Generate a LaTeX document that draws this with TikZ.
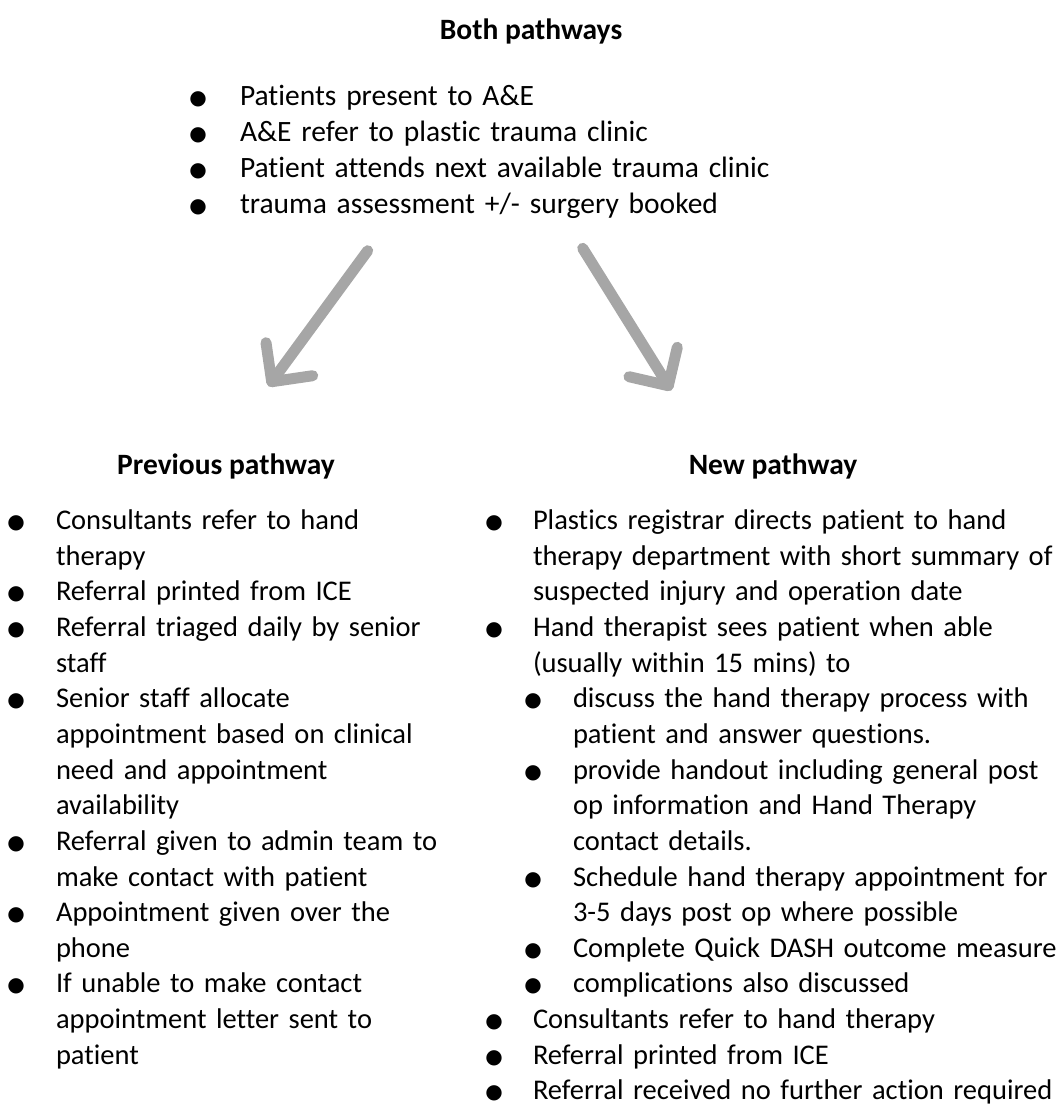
\documentclass[tikz,border=0pt]{standalone}
\usepackage{fontspec}
\setmainfont{Carlito}[Ligatures={TeX,NoCommon}]
\newfontfamily\bulfont{DejaVu Sans}
\definecolor{arrowgray}{HTML}{A6A6A6}
\newcommand\bodyfont{\fontsize{28.5pt}{35.65pt}\selectfont}
\newcommand\topfont{\fontsize{29.5pt}{36pt}\selectfont}
\newcommand\bul{\raisebox{1pt}{\bulfont\fontsize{20pt}{20pt}\selectfont ●}}
% #1 bullet centre offset, #2 text offset, #3 text
\newcommand\bitem[3]{\noindent\hangindent=#2\hangafter=1\makebox[#2][l]{\hspace*{#1}\makebox[0pt][c]{\bul}}#3\par}
\tikzset{
  txt/.style={anchor=base west, inner sep=0pt, outer sep=0pt, font=\bodyfont,
    execute at begin node={\raggedright\parindent=0pt\parskip=0pt}},
  toptxt/.style={txt, font=\topfont},
  head/.style={anchor=base, inner sep=0pt, outer sep=0pt, font=\topfont\bfseries},
  arr/.style={draw=arrowgray, line width=11pt, line cap=round, line join=round},
}
\begin{document}
\begin{tikzpicture}[x=1pt,y=-1pt]
\useasboundingbox (0,0) rectangle (1063,1106);

% headings
\node[head] (both) at (531,39) {Both pathways};
\node[head] (prev) at (226,474) {Previous pathway};
\node[head] (new) at (773,474) {New pathway};

% top list
\node[toptxt, text width=700pt] (toplist) at (178,105) {%
\bitem{20pt}{62pt}{Patients present to A\&E}%
\bitem{20pt}{62pt}{A\&E refer to plastic trauma clinic}%
\bitem{20pt}{62pt}{Patient attends next available trauma clinic}%
\bitem{20pt}{62pt}{trauma assessment +/- surgery booked}};

% left column
\node[txt, text width=480pt] (leftlist) at (0,529.5) {%
\bitem{16pt}{56pt}{Consultants refer to hand\newline therapy}%
\bitem{16pt}{56pt}{Referral printed from ICE}%
\bitem{16pt}{56pt}{Referral triaged daily by senior\newline staff}%
\bitem{16pt}{56pt}{Senior staff allocate\newline appointment based on clinical\newline need and appointment\newline availability}%
\bitem{16pt}{56pt}{Referral given to admin team to\newline make contact with patient}%
\bitem{16pt}{56pt}{Appointment given over the\newline phone}%
\bitem{16pt}{56pt}{If unable to make contact\newline appointment letter sent to\newline patient}};

% right column
\node[txt, text width=640pt] (rightlist) at (474,529.5) {%
\bitem{20pt}{59pt}{Plastics registrar directs patient to hand\newline therapy department with short summary of\newline suspected injury and operation date}%
\bitem{20pt}{59pt}{Hand therapist sees patient when able\newline (usually within 15 mins) to}%
\bitem{59pt}{99pt}{discuss the hand therapy process with\newline patient and answer questions.}%
\bitem{59pt}{99pt}{provide handout including general post\newline op information and Hand Therapy\newline contact details.}%
\bitem{59pt}{99pt}{Schedule hand therapy appointment for\newline 3-5 days post op where possible}%
\bitem{59pt}{99pt}{Complete Quick DASH outcome measure}%
\bitem{59pt}{99pt}{complications also discussed}%
\bitem{20pt}{59pt}{Consultants refer to hand therapy}%
\bitem{20pt}{59pt}{Referral printed from ICE}%
\bitem{20pt}{59pt}{Referral received no further action required}};

% arrows
\coordinate (ls) at (367.7,250.7);
\coordinate (lt) at (271.7,381.7);
\coordinate (la1) at (266,342.7);
\coordinate (la2) at (312.7,375.7);
\coordinate (rs) at (582.7,248.3);
\coordinate (rt) at (668.3,385.7);
\coordinate (ra1) at (677.3,347.3);
\coordinate (ra2) at (629,376.7);
\draw[arr] (ls) -- (lt);
\draw[arr] (la1) -- (lt) -- (la2);
\draw[arr] (rs) -- (rt);
\draw[arr] (ra1) -- (rt) -- (ra2);
\end{tikzpicture}
\end{document}
